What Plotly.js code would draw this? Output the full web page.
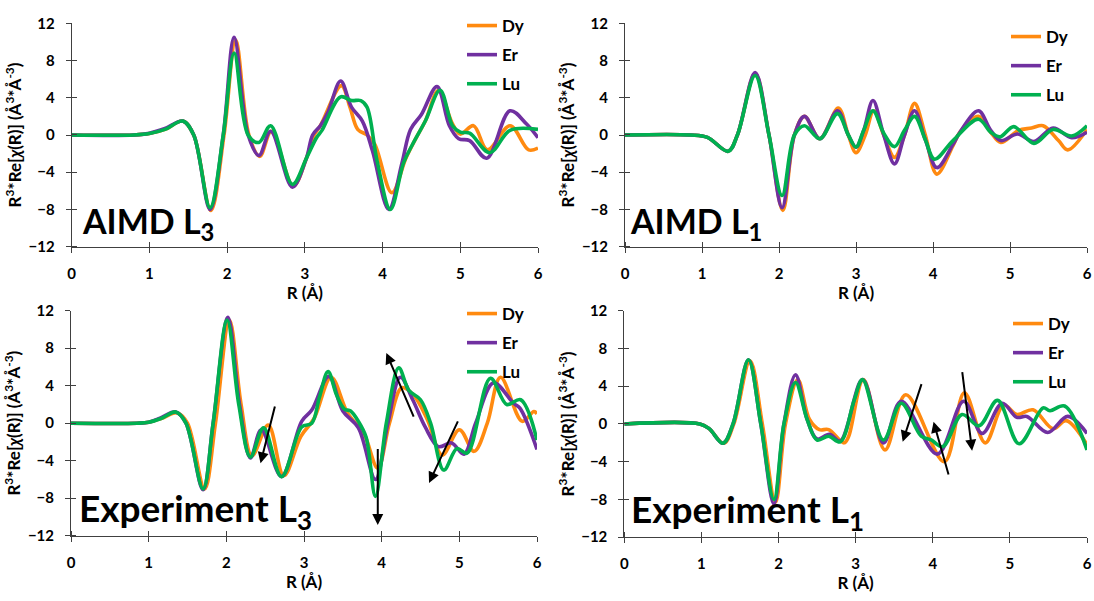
<!DOCTYPE html>
<html>
<head>
<meta charset="utf-8">
<script src="https://cdn.plot.ly/plotly-3.0.1.min.js"></script>
<style>html,body{margin:0;padding:0;background:#fff;}#chart{width:1094px;height:601px;}</style>
</head>
<body>
<div id="chart"></div>
<script>
// ---------- DATA ----------
const seriesNames = ['Dy', 'Er', 'Lu'];
const xTickVals = [0, 1, 2, 3, 4, 5, 6];
const yTickVals = [-12, -8, -4, 0, 4, 8, 12];

// AIMD L3 (top-left)
const aimdL3_Dy_R = [0,0.8,1.0,1.2,1.43,1.57,1.79,1.96,2.11,2.28,2.42,2.57,2.85,3.02,3.12,3.2,3.47,3.58,3.68,3.8,3.9,4.12,4.3,4.42,4.55,4.72,4.9,5.0,5.17,5.35,5.64,5.88,6.0];
const aimdL3_Dy   = [0,0,0.15,0.6,1.5,0,-8.1,0,10.2,0,-2.3,0.4,-5.5,-2.5,0,1.0,5.3,3.0,0.6,0.0,-1.0,-6.2,-2.5,-0.5,1.5,4.8,1.2,0.1,1.0,-1.6,1.0,-1.6,-1.4];
const aimdL3_Er_R = [0,0.8,1.0,1.2,1.43,1.57,1.78,1.95,2.09,2.27,2.41,2.56,2.84,3.02,3.1,3.2,3.3,3.46,3.6,3.74,3.87,4.08,4.25,4.36,4.5,4.70,4.86,4.98,5.12,5.34,5.64,5.85,6.0];
const aimdL3_Er   = [0,0,0.2,0.7,1.5,0,-8.0,0,10.5,0,-2.2,0.4,-5.6,-2.5,0,1.0,2.5,5.8,3.0,1.5,-1.7,-8.0,-3.0,0.6,2.2,5.2,1.0,-0.4,-0.6,-2.5,2.6,1.2,-0.3];
const aimdL3_Lu_R = [0,0.8,1.0,1.2,1.43,1.57,1.78,1.95,2.09,2.27,2.41,2.56,2.84,3.02,3.15,3.22,3.46,3.6,3.72,3.8,3.93,4.1,4.27,4.38,4.55,4.74,4.9,5.0,5.12,5.38,5.64,6.0];
const aimdL3_Lu   = [0,0,0.15,0.6,1.5,0,-7.8,0,8.8,0,-0.8,1.0,-5.3,-2.5,-0.3,0.5,4.1,3.7,3.7,3.0,-2.8,-8.0,-3.0,-1.1,1.5,4.8,1.0,0.3,0.2,-1.9,0.5,0.6];

// AIMD L1 (top-right)
const aimdL1_Dy_R = [0,0.85,1.07,1.34,1.46,1.69,1.87,2.05,2.2,2.33,2.53,2.77,2.9,3.0,3.12,3.23,3.36,3.5,3.63,3.76,3.9,4.05,4.26,4.35,4.59,4.75,4.88,5.11,5.28,5.43,5.63,5.75,6.0];
const aimdL1_Dy   = [0,0,-0.25,-1.75,0,6.6,0,-8.1,0,2.0,-0.4,2.9,0,-1.9,0,2.6,0,-2.4,0,3.4,0,-4.2,-1.15,0.3,2.0,0.3,-0.8,0.5,0.75,1.0,-0.6,-1.6,0.6];
const aimdL1_Er_R = [0,0.85,1.07,1.34,1.46,1.69,1.87,2.04,2.2,2.33,2.53,2.76,2.9,3.0,3.1,3.22,3.36,3.5,3.63,3.76,3.9,4.05,4.26,4.35,4.59,4.75,4.88,5.1,5.31,5.56,5.8,6.0];
const aimdL1_Er   = [0,0,-0.25,-1.75,0,6.7,0,-7.8,0,2.0,-0.4,2.6,0,-1.3,0.5,3.7,0,-3.1,0,2.6,-0.5,-3.5,-1.0,0.3,2.6,0.5,-0.6,0.1,-0.7,0.75,-0.3,0.3];
const aimdL1_Lu_R = [0,0.85,1.07,1.34,1.46,1.69,1.87,2.04,2.2,2.33,2.53,2.76,2.9,3.0,3.1,3.22,3.36,3.5,3.63,3.76,3.9,4.02,4.26,4.59,4.75,4.87,5.05,5.31,5.56,5.8,6.0];
const aimdL1_Lu   = [0,0,-0.25,-1.75,0,6.4,0,-6.5,0,1.0,-0.4,2.3,0,-1.3,0.5,2.6,0.2,-1.25,0.5,2.0,-0.5,-2.6,-0.6,1.7,0.3,-0.2,0.9,-0.9,0.6,-0.1,1.0];

// Experiment L3 (bottom-left)
const expL3_Dy_R = [0,0.85,1.0,1.16,1.37,1.5,1.72,1.86,2.04,2.19,2.33,2.54,2.74,2.96,3.13,3.35,3.56,3.77,3.95,4.1,4.26,4.41,4.59,4.78,5.0,5.19,5.36,5.53,5.81,5.96,6.0];
const expL3_Dy   = [0,0,0.1,0.5,1.1,0,-7.0,0,11.0,2.0,-3.5,-0.2,-5.6,-1.4,0.5,4.9,1.1,-1.1,-4.8,0,3.8,3.0,0.35,-3.4,-0.7,-3.0,0,4.9,0.2,1.25,1.0];
const expL3_Er_R = [0,0.85,1.0,1.16,1.35,1.48,1.70,1.83,2.02,2.17,2.31,2.45,2.71,2.97,3.1,3.32,3.5,3.7,3.92,4.08,4.24,4.4,4.56,4.73,4.9,5.06,5.21,5.44,5.7,5.78,6.0];
const expL3_Er   = [0,0,0.1,0.6,1.2,0,-7.1,0,11.3,2.0,-3.7,-0.7,-5.7,0.2,1.4,5.0,1.3,-0.5,-6.0,0,4.9,2.5,-0.4,-2.5,-2.1,-3.3,0,4.3,2.1,1.6,-2.8];
const expL3_Lu_R = [0,0.85,1.0,1.16,1.35,1.48,1.70,1.83,2.01,2.16,2.31,2.48,2.71,2.97,3.1,3.2,3.31,3.42,3.52,3.6,3.7,3.8,3.92,4.06,4.22,4.35,4.5,4.63,4.8,4.97,5.1,5.4,5.61,5.79,6.0];
const expL3_Lu   = [0,0,0.1,0.5,1.2,0,-7.0,0,11.0,2.0,-3.6,-0.5,-5.7,-0.4,0.0,2.8,5.5,3.0,1.5,1.3,0.2,-1.5,-7.8,0,5.9,3.5,2.5,0,-5.0,-2.7,-3.2,4.8,2.0,2.5,-1.8];

// Experiment L1 (bottom-right)
const expL1_Dy_R = [0,0.98,1.1,1.29,1.42,1.63,1.79,1.96,2.09,2.25,2.4,2.53,2.65,2.85,2.91,3.1,3.38,3.65,4.15,4.41,4.68,4.92,5.09,5.3,5.56,5.73,6.0];
const expL1_Dy   = [0,0,-0.5,-2.05,0,6.7,0,-8.3,0,4.7,0.5,-0.6,-0.6,-2.0,-1.3,4.7,-2.75,3.1,-4.0,3.3,-2.0,2.0,1.0,1.5,-0.5,0.35,-2.2];
const expL1_Er_R = [0,0.98,1.1,1.28,1.41,1.61,1.77,1.94,2.07,2.22,2.37,2.5,2.66,2.8,3.09,3.36,3.59,4.06,4.4,4.64,4.9,5.09,5.22,5.49,5.75,6.0];
const expL1_Er   = [0,0,-0.5,-2.05,0,6.8,0,-8.5,0,5.2,0.5,-1.6,-1.1,-1.8,4.7,-2.0,2.4,-3.2,2.4,-1.0,2.2,0.7,0.8,-0.9,0.8,-1.0];
const expL1_Lu_R = [0,0.98,1.1,1.28,1.41,1.61,1.77,1.94,2.07,2.22,2.37,2.5,2.65,2.8,2.98,3.09,3.36,3.59,3.85,3.98,4.13,4.38,4.6,4.84,5.12,5.43,5.52,5.71,6.0];
const expL1_Lu   = [0,0,-0.5,-2.05,0,6.8,0,-8.0,0,4.4,0.5,-1.7,-1.3,-1.9,2.5,4.7,-1.7,2.2,-1.3,-1.7,-2.4,1.0,-0.2,2.5,-2.1,1.7,1.4,1.9,-2.75];

const panelLabels = ['AIMD L<sub>3</sub>', 'AIMD L<sub>1</sub>', 'Experiment L<sub>3</sub>', 'Experiment L<sub>1</sub>'];

// arrows in Experiment panels: [tailR, tailV, headR, headV]
const expL3_arrows = [[2.63,1.95,2.44,-4.27],[3.95,-2.6,3.95,-10.85],[4.42,0.53,4.06,7.5],[4.99,0.35,4.61,-6.37]];
const expL1_arrows = [[3.86,4.38,3.61,-1.88],[4.21,-5.51,4.01,0.24],[4.38,5.65,4.51,-2.83]];

// ---------- STYLE ----------
const colors = {Dy:'#FF8A10', Er:'#7030A0', Lu:'#00B050'};
const FONT = 'Lato, Carlito, "Open Sans", sans-serif';
const W = 1094, H = 601;
const px = v => v / W, py = v => 1 - v / H;

const panels = [
  {sfx:'',  leg:'legend',  data:[[aimdL3_Dy_R,aimdL3_Dy],[aimdL3_Er_R,aimdL3_Er],[aimdL3_Lu_R,aimdL3_Lu]],
   xd:[71.7,538], yd:[23.3,246.7], legPos:[462,8], label:[80,248], lsize:34},
  {sfx:'2', leg:'legend2', data:[[aimdL1_Dy_R,aimdL1_Dy],[aimdL1_Er_R,aimdL1_Er],[aimdL1_Lu_R,aimdL1_Lu]],
   xd:[625,1087], yd:[23.3,246.7], legPos:[1006,19], label:[628,248], lsize:34},
  {sfx:'3', leg:'legend3', data:[[expL3_Dy_R,expL3_Dy],[expL3_Er_R,expL3_Er],[expL3_Lu_R,expL3_Lu]],
   xd:[71,537], yd:[310.7,535.7], legPos:[462,296], label:[77,538], lsize:37},
  {sfx:'4', leg:'legend4', data:[[expL1_Dy_R,expL1_Dy],[expL1_Er_R,expL1_Er],[expL1_Lu_R,expL1_Lu]],
   xd:[624.3,1087], yd:[310.7,537.2], legPos:[1008,306], label:[629,539], lsize:37}
];

const traces = [];
const layout = {
  width: W, height: H,
  margin: {l:0, r:0, t:0, b:0},
  paper_bgcolor: '#fff', plot_bgcolor: 'rgba(0,0,0,0)',
  showlegend: true,
  annotations: [], shapes: []
};

const tickFont = {family: FONT, size: 15, color: '#000', weight: 'bold'};
const titleFont = {family: FONT, size: 17, color: '#000', weight: 'bold'};
const axColor = '#404040';

panels.forEach((p, i) => {
  seriesNames.forEach((nm, k) => {
    traces.push({
      type: 'scatter', mode: 'lines', name: nm,
      x: p.data[k][0], y: p.data[k][1],
      xaxis: 'x' + p.sfx, yaxis: 'y' + p.sfx,
      legend: p.leg, legendgroup: p.leg + nm,
      line: {color: colors[nm], width: 3.6, shape: 'spline', smoothing: 1},
      hoverinfo: 'skip'
    });
  });
  layout['xaxis' + p.sfx] = {
    domain: [px(p.xd[0]), px(p.xd[1])], anchor: 'y' + p.sfx,
    range: [0, 6], tickvals: xTickVals, showgrid: false, zeroline: false,
    showline: true, linecolor: axColor, linewidth: 1,
    ticks: 'outside', ticklen: 5, tickcolor: axColor,
    minor: {tickvals: xTickVals.map(v => v + 0.001), ticks: 'inside', ticklen: 5, tickcolor: axColor, showgrid: false},
    ticklabelstandoff: 8, ticklabeloverflow: 'allow', tickfont: tickFont,
    title: {text: 'R (Å)', font: titleFont, standoff: 0}
  };
  layout['yaxis' + p.sfx] = {
    domain: [py(p.yd[1]), py(p.yd[0])], anchor: 'x' + p.sfx,
    range: [-12, 12], tickvals: yTickVals, showgrid: false, zeroline: false,
    showline: true, linecolor: axColor, linewidth: 1,
    ticks: 'outside', ticklen: 5, tickcolor: axColor,
    minor: {tickvals: yTickVals.map(v => v + 0.003), ticks: 'inside', ticklen: 5, tickcolor: axColor, showgrid: false},
    ticklabelstandoff: 8, ticklabeloverflow: 'allow', tickfont: tickFont,
    title: {text: 'R<sup>3</sup>*Re[<i>χ</i>(R)] (Å<sup>3</sup>*Å<sup>-3</sup>)', font: titleFont, standoff: 2}
  };
  layout[p.leg] = {
    x: px(p.legPos[0]), y: py(p.legPos[1]), xanchor: 'left', yanchor: 'top',
    bgcolor: 'rgba(0,0,0,0)', borderwidth: 0,
    font: {family: FONT, size: 17, color: '#000', weight: 'bold'},
    itemwidth: 30, tracegroupgap: 4, traceorder: 'grouped'
  };
  layout.annotations.push({
    xref: 'paper', yref: 'paper', x: px(p.label[0]), y: py(p.label[1]),
    xanchor: 'left', yanchor: 'bottom', showarrow: false,
    text: '<b>' + panelLabels[i] + '</b>',
    font: {family: FONT, size: p.lsize, color: '#000'}
  });
});

function addArrows(arr, sfx) {
  arr.forEach(a => {
    layout.annotations.push({
      xref: 'x' + sfx, yref: 'y' + sfx, axref: 'x' + sfx, ayref: 'y' + sfx,
      x: a[2], y: a[3], ax: a[0], ay: a[1], text: '',
      showarrow: true, arrowhead: 2, arrowsize: 1.1, arrowwidth: 2, arrowcolor: '#000', standoff: 0
    });
  });
}
addArrows(expL3_arrows, '3');
addArrows(expL1_arrows, '4');

Plotly.newPlot('chart', traces, layout, {staticPlot: true, displayModeBar: false});
</script>
</body>
</html>
